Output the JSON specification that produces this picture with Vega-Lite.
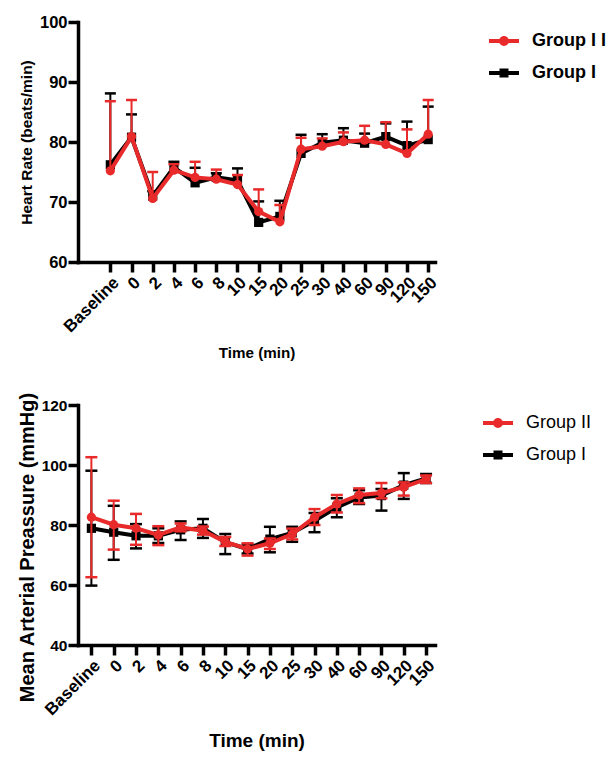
{
  "$schema": "https://vega.github.io/schema/vega-lite/v6.json",
  "autosize": {"type": "pad"},
  "padding": {"left": 16, "top": 14, "right": 0, "bottom": 0},
  "spacing": 30,
  "config": {
    "view": {"stroke": null},
    "axis": {
      "domainColor": "black", "tickColor": "black", "domainWidth": 3.5, "tickWidth": 3.5, "tickSize": 10,
      "labelColor": "black", "titleColor": "black", "labelFont": "Liberation Sans", "titleFont": "Liberation Sans",
      "labelFontWeight": "bold", "titleFontWeight": "bold", "grid": false, "labelPadding": 1, "domainCap": "square", "labelOverlap": false
    },
    "legend": {"labelFont": "Liberation Sans", "labelColor": "black"}
  },
  "datasets": {
    "hr": [
      {"t": "Baseline", "g": "Group I", "v": 76.2, "hi": 88.1},
      {"t": "0", "g": "Group I", "v": 80.8, "hi": 84.6},
      {"t": "2", "g": "Group I", "v": 71.0, "hi": 71.8},
      {"t": "4", "g": "Group I", "v": 75.8, "hi": 76.7},
      {"t": "6", "g": "Group I", "v": 73.2, "hi": 75.7},
      {"t": "8", "g": "Group I", "v": 74.1, "hi": 74.8},
      {"t": "10", "g": "Group I", "v": 73.6, "hi": 75.6},
      {"t": "15", "g": "Group I", "v": 66.6, "hi": 70.1},
      {"t": "20", "g": "Group I", "v": 67.6, "hi": 70.2},
      {"t": "25", "g": "Group I", "v": 78.1, "hi": 81.2},
      {"t": "30", "g": "Group I", "v": 79.9, "hi": 81.3},
      {"t": "40", "g": "Group I", "v": 80.3, "hi": 82.3},
      {"t": "60", "g": "Group I", "v": 79.8, "hi": 81.4},
      {"t": "90", "g": "Group I", "v": 80.9, "hi": 83.1},
      {"t": "120", "g": "Group I", "v": 79.4, "hi": 83.4},
      {"t": "150", "g": "Group I", "v": 80.4, "hi": 85.9},
      {"t": "Baseline", "g": "Group II", "v": 75.2, "hi": 86.8},
      {"t": "0", "g": "Group II", "v": 80.9, "hi": 87.0},
      {"t": "2", "g": "Group II", "v": 70.6, "hi": 75.0},
      {"t": "4", "g": "Group II", "v": 75.3, "hi": 76.3},
      {"t": "6", "g": "Group II", "v": 74.1, "hi": 76.7},
      {"t": "8", "g": "Group II", "v": 73.8, "hi": 75.4},
      {"t": "10", "g": "Group II", "v": 72.9, "hi": 74.5},
      {"t": "15", "g": "Group II", "v": 68.4, "hi": 72.1},
      {"t": "20", "g": "Group II", "v": 66.7, "hi": 69.5},
      {"t": "25", "g": "Group II", "v": 78.8, "hi": 80.7},
      {"t": "30", "g": "Group II", "v": 79.3, "hi": 80.6},
      {"t": "40", "g": "Group II", "v": 80.05, "hi": 81.6},
      {"t": "60", "g": "Group II", "v": 80.3, "hi": 82.7},
      {"t": "90", "g": "Group II", "v": 79.6, "hi": 83.3},
      {"t": "120", "g": "Group II", "v": 78.1, "hi": 82.1},
      {"t": "150", "g": "Group II", "v": 81.3, "hi": 87.0}
    ],
    "map": [
      {"t": "Baseline", "g": "Group I", "v": 78.9, "lo": 59.8, "hi": 98.1},
      {"t": "0", "g": "Group I", "v": 77.6, "lo": 68.4, "hi": 86.4},
      {"t": "2", "g": "Group I", "v": 76.4, "lo": 72.2, "hi": 80.3},
      {"t": "4", "g": "Group I", "v": 76.4, "lo": 74.0, "hi": 78.9},
      {"t": "6", "g": "Group I", "v": 78.4, "lo": 75.0, "hi": 81.2},
      {"t": "8", "g": "Group I", "v": 78.9, "lo": 75.7, "hi": 82.0},
      {"t": "10", "g": "Group I", "v": 74.3, "lo": 70.3, "hi": 77.0},
      {"t": "15", "g": "Group I", "v": 72.0, "lo": 70.5, "hi": 73.5},
      {"t": "20", "g": "Group I", "v": 75.3, "lo": 70.9, "hi": 79.4},
      {"t": "25", "g": "Group I", "v": 77.4, "lo": 74.4, "hi": 79.4},
      {"t": "30", "g": "Group I", "v": 81.4, "lo": 77.6, "hi": 84.0},
      {"t": "40", "g": "Group I", "v": 85.9, "lo": 82.6, "hi": 88.9},
      {"t": "60", "g": "Group I", "v": 89.2, "lo": 87.0, "hi": 91.6},
      {"t": "90", "g": "Group I", "v": 89.8, "lo": 84.8, "hi": 92.0},
      {"t": "120", "g": "Group I", "v": 93.3, "lo": 88.7, "hi": 97.3},
      {"t": "150", "g": "Group I", "v": 95.5, "lo": 94.0, "hi": 97.0},
      {"t": "Baseline", "g": "Group II", "v": 82.6, "lo": 62.6, "hi": 102.6},
      {"t": "0", "g": "Group II", "v": 80.1, "lo": 71.8, "hi": 88.1},
      {"t": "2", "g": "Group II", "v": 78.9, "lo": 73.4, "hi": 83.7},
      {"t": "4", "g": "Group II", "v": 76.7, "lo": 73.3, "hi": 79.6},
      {"t": "6", "g": "Group II", "v": 79.2, "lo": 77.9, "hi": 80.5},
      {"t": "8", "g": "Group II", "v": 78.1, "lo": 76.8, "hi": 79.5},
      {"t": "10", "g": "Group II", "v": 74.4, "lo": 73.0, "hi": 76.0},
      {"t": "15", "g": "Group II", "v": 72.0, "lo": 69.8, "hi": 73.9},
      {"t": "20", "g": "Group II", "v": 73.9, "lo": 72.0, "hi": 75.5},
      {"t": "25", "g": "Group II", "v": 77.0, "lo": 75.2, "hi": 78.8},
      {"t": "30", "g": "Group II", "v": 82.6, "lo": 80.0, "hi": 85.3},
      {"t": "40", "g": "Group II", "v": 87.0, "lo": 84.2, "hi": 90.0},
      {"t": "60", "g": "Group II", "v": 90.0, "lo": 87.3, "hi": 92.2},
      {"t": "90", "g": "Group II", "v": 90.7, "lo": 88.9, "hi": 94.0},
      {"t": "120", "g": "Group II", "v": 92.6, "lo": 89.8, "hi": 94.2},
      {"t": "150", "g": "Group II", "v": 95.3, "lo": 94.0, "hi": 96.5}
    ]
  },
  "resolve": {"scale": {"color": "independent", "x": "independent", "y": "independent"}, "legend": {"color": "independent"}},
  "vconcat": [
    {
      "width": 357,
      "height": 240,
      "data": {"name": "hr"},
      "encoding": {
        "x": {
          "field": "t", "type": "ordinal", "title": "Time (min)",
          "scale": {"type": "point", "domain": ["Baseline", "0", "2", "4", "6", "8", "10", "15", "20", "25", "30", "40", "60", "90", "120", "150"], "padding": 0.924, "align": 0.826},
          "axis": {"labelAngle": -45, "labelFontSize": 17, "titleFontSize": 15.2, "titleY": 83.5, "labelPadding": 2}
        },
        "color": {
          "field": "g", "type": "nominal",
          "scale": {"domain": ["Group II", "Group I"], "range": ["#e82a2a", "#000000"]},
          "legend": {
            "orient": "right", "offset": 48, "padding": 4, "rowPadding": 8, "symbolSize": 900,
            "labelFontSize": 18, "labelFontWeight": "bold", "labelOffset": 13, "title": null,
            "labelExpr": "datum.label == 'Group II' ? 'Group I I' : datum.label",
            "encode": {"symbols": {"update": {
              "shape": {"signal": "datum.value === 'Group II' ? 'M-1,-0.13H1V0.13H-1Z M0.33,0A0.33,0.33 0 1,1 -0.33,0A0.33,0.33 0 1,1 0.33,0Z' : 'M-1,-0.13H1V0.13H-1Z M-0.3,-0.3H0.3V0.3H-0.3Z'"},
              "fill": {"signal": "datum.value === 'Group II' ? '#e82a2a' : '#000000'"},
              "strokeWidth": {"value": 0},
              "opacity": {"value": 1}
            }}}
          }
        }
      },
      "layer": [
        {
          "transform": [{"filter": "datum.g === 'Group I'"}],
          "layer": [
            {
              "mark": {"type": "line", "strokeWidth": 4},
              "encoding": {
                "y": {"field": "v", "type": "quantitative", "title": "Heart Rate (beats/min)",
                  "scale": {"domain": [60, 100]},
                  "axis": {"values": [60, 70, 80, 90, 100], "labelFontSize": 16.5, "titleFontSize": 15.5, "titleX": -43.5, "titleY": 120}}
              }
            },
            {
              "mark": {"type": "rule", "strokeWidth": 2},
              "encoding": {"y": {"field": "v", "type": "quantitative", "title": "Heart Rate (beats/min)"}, "y2": {"field": "hi"}}
            },
            {
              "mark": {"type": "tick", "size": 11, "thickness": 2.5, "opacity": 1},
              "encoding": {"y": {"field": "hi", "type": "quantitative", "title": "Heart Rate (beats/min)"}}
            },
            {
              "mark": {"type": "point", "shape": "square", "filled": true, "opacity": 1, "size": 85},
              "encoding": {"y": {"field": "v", "type": "quantitative", "title": "Heart Rate (beats/min)"}}
            }
          ]
        },
        {
          "transform": [{"filter": "datum.g === 'Group II'"}],
          "layer": [
            {
              "mark": {"type": "line", "strokeWidth": 4},
              "encoding": {"y": {"field": "v", "type": "quantitative", "title": "Heart Rate (beats/min)"}}
            },
            {
              "mark": {"type": "rule", "strokeWidth": 2},
              "encoding": {"y": {"field": "v", "type": "quantitative", "title": "Heart Rate (beats/min)"}, "y2": {"field": "hi"}}
            },
            {
              "mark": {"type": "tick", "size": 11, "thickness": 2.5, "opacity": 1},
              "encoding": {"y": {"field": "hi", "type": "quantitative", "title": "Heart Rate (beats/min)"}}
            },
            {
              "mark": {"type": "point", "shape": "circle", "filled": true, "opacity": 1, "size": 85},
              "encoding": {"y": {"field": "v", "type": "quantitative", "title": "Heart Rate (beats/min)"}}
            }
          ]
        }
      ]
    },
    {
      "width": 357,
      "height": 240,
      "data": {"name": "map"},
      "encoding": {
        "x": {
          "field": "t", "type": "ordinal", "title": "Time (min)",
          "scale": {"type": "point", "domain": ["Baseline", "0", "2", "4", "6", "8", "10", "15", "20", "25", "30", "40", "60", "90", "120", "150"], "padding": 0.5, "align": 0.6},
          "axis": {"labelAngle": -45, "labelFontSize": 17, "titleFontSize": 19, "titleY": 86.5, "labelPadding": 2}
        },
        "color": {
          "field": "g", "type": "nominal",
          "scale": {"domain": ["Group II", "Group I"], "range": ["#e82a2a", "#000000"]},
          "legend": {
            "orient": "right", "offset": 45, "padding": 3, "rowPadding": 8, "symbolSize": 900,
            "labelFontSize": 18, "labelFontWeight": "normal", "labelOffset": 13, "title": null,
            "encode": {"symbols": {"update": {
              "shape": {"signal": "datum.value === 'Group II' ? 'M-1,-0.13H1V0.13H-1Z M0.33,0A0.33,0.33 0 1,1 -0.33,0A0.33,0.33 0 1,1 0.33,0Z' : 'M-1,-0.13H1V0.13H-1Z M-0.3,-0.3H0.3V0.3H-0.3Z'"},
              "fill": {"signal": "datum.value === 'Group II' ? '#e82a2a' : '#000000'"},
              "strokeWidth": {"value": 0},
              "opacity": {"value": 1}
            }}}
          }
        }
      },
      "layer": [
        {
          "transform": [{"filter": "datum.g === 'Group I'"}],
          "layer": [
            {
              "mark": {"type": "line", "strokeWidth": 4},
              "encoding": {
                "y": {"field": "v", "type": "quantitative", "title": "Mean Arterial Preassure (mmHg)",
                  "scale": {"domain": [40, 120]},
                  "axis": {"values": [40, 60, 80, 100, 120], "labelFontSize": 15.5, "titleFontSize": 20, "titleX": -41, "titleY": 142}}
              }
            },
            {
              "mark": {"type": "rule", "strokeWidth": 2},
              "encoding": {"y": {"field": "lo", "type": "quantitative", "title": "Mean Arterial Preassure (mmHg)"}, "y2": {"field": "hi"}}
            },
            {
              "mark": {"type": "tick", "size": 12, "thickness": 2.5, "opacity": 1},
              "encoding": {"y": {"field": "hi", "type": "quantitative", "title": "Mean Arterial Preassure (mmHg)"}}
            },
            {
              "mark": {"type": "tick", "size": 12, "thickness": 2.5, "opacity": 1},
              "encoding": {"y": {"field": "lo", "type": "quantitative", "title": "Mean Arterial Preassure (mmHg)"}}
            },
            {
              "mark": {"type": "point", "shape": "square", "filled": true, "opacity": 1, "size": 85},
              "encoding": {"y": {"field": "v", "type": "quantitative", "title": "Mean Arterial Preassure (mmHg)"}}
            }
          ]
        },
        {
          "transform": [{"filter": "datum.g === 'Group II'"}],
          "layer": [
            {
              "mark": {"type": "line", "strokeWidth": 4},
              "encoding": {"y": {"field": "v", "type": "quantitative", "title": "Mean Arterial Preassure (mmHg)"}}
            },
            {
              "mark": {"type": "rule", "strokeWidth": 2},
              "encoding": {"y": {"field": "lo", "type": "quantitative", "title": "Mean Arterial Preassure (mmHg)"}, "y2": {"field": "hi"}}
            },
            {
              "mark": {"type": "tick", "size": 12, "thickness": 2.5, "opacity": 1},
              "encoding": {"y": {"field": "hi", "type": "quantitative", "title": "Mean Arterial Preassure (mmHg)"}}
            },
            {
              "mark": {"type": "tick", "size": 12, "thickness": 2.5, "opacity": 1},
              "encoding": {"y": {"field": "lo", "type": "quantitative", "title": "Mean Arterial Preassure (mmHg)"}}
            },
            {
              "mark": {"type": "point", "shape": "circle", "filled": true, "opacity": 1, "size": 85},
              "encoding": {"y": {"field": "v", "type": "quantitative", "title": "Mean Arterial Preassure (mmHg)"}}
            }
          ]
        }
      ]
    }
  ]
}
